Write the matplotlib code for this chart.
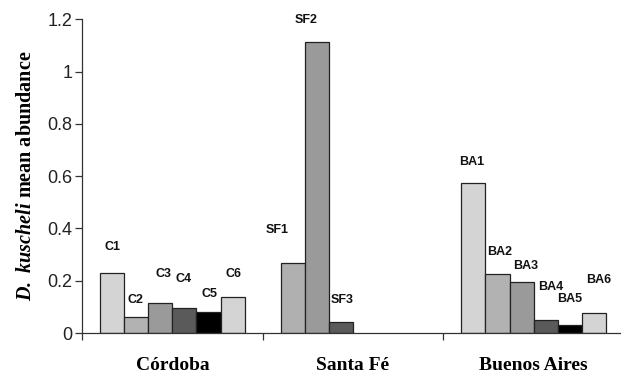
import numpy as np
import matplotlib.pyplot as plt
from matplotlib.ticker import FormatStrFormatter

plt.rcParams['mathtext.fontset'] = 'custom'
plt.rcParams['mathtext.rm'] = 'Liberation Serif:bold'
plt.rcParams['mathtext.bfit'] = 'Liberation Serif:italic:bold'

# data
regions = ['Córdoba', 'Santa Fé', 'Buenos Aires']
cordoba_sites = ['C1', 'C2', 'C3', 'C4', 'C5', 'C6']
cordoba_vals = [0.230, 0.061, 0.116, 0.096, 0.082, 0.139]
santafe_sites = ['SF1', 'SF2', 'SF3']
santafe_vals = [0.267, 1.112, 0.041]
bsas_sites = ['BA1', 'BA2', 'BA3', 'BA4', 'BA5', 'BA6']
bsas_vals = [0.574, 0.224, 0.194, 0.051, 0.031, 0.077]

groups = [(cordoba_sites, cordoba_vals), (santafe_sites, santafe_vals), (bsas_sites, bsas_vals)]

# fills per group
colors = [['#d4d4d4', '#b2b2b2', '#9a9a9a', '#5a5a5a', '#000000', '#d4d4d4'],
          ['#b0b0b0', '#9a9a9a', '#5a5a5a'],
          ['#d4d4d4', '#b2b2b2', '#9a9a9a', '#5a5a5a', '#000000', '#d4d4d4']]

# label offsets (pixels) from bar top centre, placed by hand in the original
offsets = [[(0, 26), (-1, 17), (3, 29), (-1, 29), (1, 18), (1, 23)],
           [(-16, 33), (-11, 22), (1, 22)],
           [(-2, 21), (2, 22), (4, 16), (5, 33), (0, 26), (5, 33)]]

fig = plt.figure(figsize=(6.21, 3.79), dpi=100)
ax = fig.add_axes([82/621, 46/379, 542/621, 313.7/379])

nslots = 6
w = 0.8 / nslots
for gi, (sites, vals) in enumerate(groups):
    for j, (s, v) in enumerate(zip(sites, vals)):
        x = gi - 0.4 + (j + 0.5) * w
        ax.bar(x, v, width=w, color=colors[gi][j], edgecolor='#222222', linewidth=0.9, zorder=2)
        dx, dy = offsets[gi][j]
        ax.annotate(s, (x, v), xytext=(dx, dy), textcoords='offset pixels',
                    ha='center', va='center', fontsize=9, fontweight='bold',
                    family='Liberation Sans', color='#111111')

ax.set_xlim(-0.5, 2.5)
ax.set_ylim(0, 1.2)
ax.set_yticks(np.arange(0, 1.21, 0.2))
ax.yaxis.set_major_formatter(FormatStrFormatter('%g'))
ax.set_xticks([0, 1, 2])
ax.set_xticklabels(regions, family='Liberation Serif', fontweight='bold', fontsize=14)
ax.set_xticks([-0.5, 0.5, 1.5, 2.5], minor=True)
ax.tick_params(axis='x', which='major', length=0, pad=17)
ax.tick_params(axis='x', which='minor', length=5, width=0.9, color='#333333')
ax.tick_params(axis='y', length=5, width=0.9, color='#333333', labelsize=13, pad=2,
               labelcolor='#222222')
for lab in ax.get_yticklabels():
    lab.set_family('Liberation Sans')

for sp in ['top', 'right']:
    ax.spines[sp].set_visible(False)
for sp in ['left', 'bottom']:
    ax.spines[sp].set_linewidth(0.9)
    ax.spines[sp].set_color('#333333')

ax.set_ylabel(r'$\mathbfit{D.}$ $\mathbfit{kuscheli}$ mean abundance', family='Liberation Serif',
              fontweight='bold', fontsize=14.5, labelpad=8)

fig.savefig('out.png', dpi=100)
